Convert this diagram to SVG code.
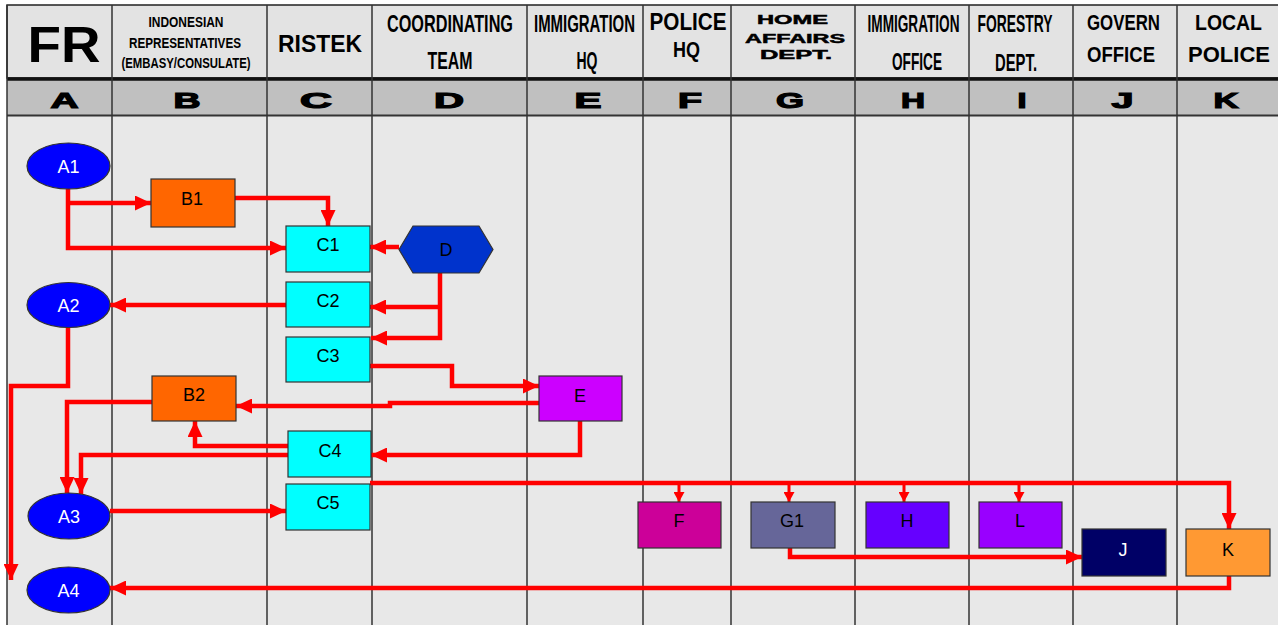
<svg xmlns="http://www.w3.org/2000/svg" width="1278" height="625" viewBox="0 0 1278 625">
<style>
.hd{font-family:"Liberation Sans",Arial,sans-serif;font-weight:bold;fill:#000;text-anchor:middle}
.let{font-family:"Liberation Sans",Arial,sans-serif;font-weight:bold;fill:#000;stroke:#000;stroke-width:1.2;text-anchor:middle;font-size:22px}
.lbl{font-family:"Liberation Sans",Arial,sans-serif;font-size:18px;fill:#000;text-anchor:middle}
.lblw{font-family:"Liberation Sans",Arial,sans-serif;font-size:18px;fill:#fff;text-anchor:middle}
.nd{stroke:#333;stroke-width:1.2}
.vl{stroke:#333;stroke-width:1.5}
.cn{fill:none;stroke:#ff0000;stroke-width:4.5;stroke-linejoin:miter}
.cs{fill:none;stroke:#ff0000;stroke-width:3}
</style>
<defs>
<marker id="arr" markerUnits="userSpaceOnUse" markerWidth="16" markerHeight="15" viewBox="0 0 16 15" refX="16" refY="7.5" orient="auto"><path d="M0,0 L16,7.5 L0,15 z" fill="#ff0000"/></marker>
<marker id="arrs" markerUnits="userSpaceOnUse" markerWidth="10" markerHeight="11" viewBox="0 0 10 11" refX="10" refY="5.5" orient="auto"><path d="M0,0 L10,5.5 L0,11 z" fill="#ff0000"/></marker>
</defs>
<rect x="0" y="0" width="1278" height="625" fill="#ffffff"/>
<g id="lanes">
<rect x="7" y="5" width="1280" height="73" fill="#e3e3e3" stroke="#222" stroke-width="1.5"/>
<rect x="7" y="80" width="1280" height="35" fill="#c0c0c0"/>
<rect x="7" y="116" width="1280" height="515" fill="#e8e8e8"/>
<line x1="7" y1="79" x2="1278" y2="79" stroke="#111" stroke-width="3.5"/>
<line x1="7" y1="115.5" x2="1278" y2="115.5" stroke="#333" stroke-width="2"/>
<g class="vl">
<line x1="7" y1="5" x2="7" y2="625"/>
<line x1="112" y1="5" x2="112" y2="625"/>
<line x1="267" y1="5" x2="267" y2="625"/>
<line x1="372" y1="5" x2="372" y2="625"/>
<line x1="527" y1="5" x2="527" y2="625"/>
<line x1="643" y1="5" x2="643" y2="625"/>
<line x1="731" y1="5" x2="731" y2="625"/>
<line x1="855" y1="5" x2="855" y2="625"/>
<line x1="969" y1="5" x2="969" y2="625"/>
<line x1="1073" y1="5" x2="1073" y2="625"/>
<line x1="1177" y1="5" x2="1177" y2="625"/>
</g>
<text class="hd" x="64" y="62" font-size="50" textLength="73" lengthAdjust="spacingAndGlyphs">FR</text>
<text class="hd" transform="translate(186,27) scale(1,1.3)" font-size="11.5" textLength="75" lengthAdjust="spacingAndGlyphs">INDONESIAN</text>
<text class="hd" transform="translate(185,48) scale(1,1.3)" font-size="11.5" textLength="112" lengthAdjust="spacingAndGlyphs">REPRESENTATIVES</text>
<text class="hd" transform="translate(186,68) scale(1,1.3)" font-size="11.5" textLength="129" lengthAdjust="spacingAndGlyphs">(EMBASY/CONSULATE)</text>
<text class="hd" transform="translate(320,52) scale(1,1.3)" font-size="19" textLength="84" lengthAdjust="spacingAndGlyphs">RISTEK</text>
<text class="hd" transform="translate(450,32) scale(1,1.3)" font-size="19" textLength="126" lengthAdjust="spacingAndGlyphs">COORDINATING</text>
<text class="hd" transform="translate(450,69) scale(1,1.3)" font-size="19" textLength="45" lengthAdjust="spacingAndGlyphs">TEAM</text>
<text class="hd" transform="translate(584.5,32) scale(1,1.45)" font-size="17" textLength="101" lengthAdjust="spacingAndGlyphs">IMMIGRATION</text>
<text class="hd" transform="translate(587,69) scale(1,1.3)" font-size="19" textLength="21" lengthAdjust="spacingAndGlyphs">HQ</text>
<text class="hd" transform="translate(688,30) scale(1,1.45)" font-size="16" textLength="77" lengthAdjust="spacingAndGlyphs">POLICE</text>
<text class="hd" transform="translate(686.5,57) scale(1,1.3)" font-size="17.5" textLength="27" lengthAdjust="spacingAndGlyphs">HQ</text>
<text class="hd" x="792.5" y="24" font-size="13" textLength="71" lengthAdjust="spacingAndGlyphs" stroke="#000" stroke-width="0.5">HOME</text>
<text class="hd" x="795" y="43" font-size="13" textLength="100" lengthAdjust="spacingAndGlyphs" stroke="#000" stroke-width="0.5">AFFAIRS</text>
<text class="hd" x="796" y="59" font-size="13" textLength="72" lengthAdjust="spacingAndGlyphs" stroke="#000" stroke-width="0.5">DEPT.</text>
<text class="hd" transform="translate(913.5,32) scale(1,1.45)" font-size="17" textLength="92" lengthAdjust="spacingAndGlyphs">IMMIGRATION</text>
<text class="hd" transform="translate(917,70) scale(1,1.3)" font-size="19" textLength="50" lengthAdjust="spacingAndGlyphs">OFFICE</text>
<text class="hd" transform="translate(1015,32) scale(1,1.45)" font-size="17" textLength="75" lengthAdjust="spacingAndGlyphs">FORESTRY</text>
<text class="hd" transform="translate(1016,71) scale(1,1.3)" font-size="19" textLength="42" lengthAdjust="spacingAndGlyphs">DEPT.</text>
<text class="hd" transform="translate(1123.5,30) scale(1,1.3)" font-size="17.5" textLength="73" lengthAdjust="spacingAndGlyphs">GOVERN</text>
<text class="hd" transform="translate(1121,62) scale(1,1.3)" font-size="17.5" textLength="68" lengthAdjust="spacingAndGlyphs">OFFICE</text>
<text class="hd" transform="translate(1228.5,30) scale(1,1.3)" font-size="17.5" textLength="67" lengthAdjust="spacingAndGlyphs">LOCAL</text>
<text class="hd" transform="translate(1229,62) scale(1,1.3)" font-size="17.5" textLength="82" lengthAdjust="spacingAndGlyphs">POLICE</text>
<text class="let" x="64.5" y="108" textLength="28" lengthAdjust="spacingAndGlyphs">A</text>
<text class="let" x="187" y="108" textLength="27" lengthAdjust="spacingAndGlyphs">B</text>
<text class="let" x="316" y="108" textLength="32" lengthAdjust="spacingAndGlyphs">C</text>
<text class="let" x="449" y="108" textLength="30" lengthAdjust="spacingAndGlyphs">D</text>
<text class="let" x="588" y="108" textLength="27" lengthAdjust="spacingAndGlyphs">E</text>
<text class="let" x="690" y="108" textLength="24" lengthAdjust="spacingAndGlyphs">F</text>
<text class="let" x="790" y="108" textLength="28" lengthAdjust="spacingAndGlyphs">G</text>
<text class="let" x="913" y="108" textLength="24" lengthAdjust="spacingAndGlyphs">H</text>
<text class="let" x="1022" y="108" textLength="9" lengthAdjust="spacingAndGlyphs">I</text>
<text class="let" x="1122.5" y="108" textLength="22" lengthAdjust="spacingAndGlyphs">J</text>
<text class="let" x="1226" y="108" textLength="25" lengthAdjust="spacingAndGlyphs">K</text>
</g>
<g id="connectors">
<path class="cn" d="M68,189 V248 H286" marker-end="url(#arr)"/>
<path class="cn" d="M68,203 H151" marker-end="url(#arr)"/>
<path class="cn" d="M235,198 H328 V226" marker-end="url(#arr)"/>
<path class="cn" d="M399,247 H370" marker-end="url(#arr)"/>
<path class="cn" d="M440,273 V338 H371" marker-end="url(#arr)"/>
<path class="cn" d="M440,307 H370" marker-end="url(#arr)"/>
<path class="cn" d="M286,305 H110" marker-end="url(#arr)"/>
<path class="cn" d="M68,327 V386 H11 V580" marker-end="url(#arr)"/>
<path class="cn" d="M370,366 H452 V386 H539" marker-end="url(#arr)"/>
<path class="cn" d="M539,403 H390 V406 H236" marker-end="url(#arr)"/>
<path class="cn" d="M152,402 H67 V493" marker-end="url(#arr)"/>
<path class="cn" d="M288,446 H195 V421" marker-end="url(#arr)"/>
<path class="cn" d="M288,455 H81 V494" marker-end="url(#arr)"/>
<path class="cn" d="M580,421 V455 H371" marker-end="url(#arr)"/>
<path class="cn" d="M110,511 H286" marker-end="url(#arr)"/>
<path class="cn" d="M370,483 H1229 V529" marker-end="url(#arr)"/>
<path class="cs" d="M679,483 V502" marker-end="url(#arrs)"/>
<path class="cs" d="M789,483 V502" marker-end="url(#arrs)"/>
<path class="cs" d="M904,483 V502" marker-end="url(#arrs)"/>
<path class="cs" d="M1019,483 V502" marker-end="url(#arrs)"/>
<path class="cn" d="M790,548 V557 H1082" marker-end="url(#arr)"/>
<path class="cn" d="M1229,576 V588 H110" marker-end="url(#arr)"/>
</g>
<g id="A1"><ellipse class="nd" cx="68.5" cy="166" rx="41.5" ry="23" fill="#0000ff"/><text class="lblw" x="68.5" y="173">A1</text></g>
<g id="A2"><ellipse class="nd" cx="68.5" cy="305" rx="41.5" ry="22.5" fill="#0000ff"/><text class="lblw" x="68.5" y="312">A2</text></g>
<g id="A3"><ellipse class="nd" cx="69" cy="516" rx="41" ry="23" fill="#0000ff"/><text class="lblw" x="69" y="523">A3</text></g>
<g id="A4"><ellipse class="nd" cx="68.5" cy="590" rx="41.5" ry="23" fill="#0000ff"/><text class="lblw" x="68.5" y="597">A4</text></g>
<g id="B1"><rect class="nd" x="151" y="179" width="84" height="48" fill="#ff6600"/><text class="lbl" x="192" y="205">B1</text></g>
<g id="B2"><rect class="nd" x="152" y="376" width="84" height="45" fill="#ff6600"/><text class="lbl" x="194" y="401">B2</text></g>
<g id="C1"><rect class="nd" x="286" y="226" width="84" height="46" fill="#00ffff"/><text class="lbl" x="328" y="251">C1</text></g>
<g id="C2"><rect class="nd" x="286" y="282" width="84" height="45" fill="#00ffff"/><text class="lbl" x="328" y="307">C2</text></g>
<g id="C3"><rect class="nd" x="286" y="337" width="84" height="45" fill="#00ffff"/><text class="lbl" x="328" y="362">C3</text></g>
<g id="C4"><rect class="nd" x="288" y="431" width="83" height="46" fill="#00ffff"/><text class="lbl" x="330" y="457">C4</text></g>
<g id="C5"><rect class="nd" x="286" y="484" width="84" height="46" fill="#00ffff"/><text class="lbl" x="328" y="509">C5</text></g>
<g id="D"><polygon class="nd" points="399,249.5 413,226 479,226 493,249.5 479,273 413,273" fill="#0033cc"/><text class="lbl" x="446" y="256">D</text></g>
<g id="E"><rect class="nd" x="539" y="376" width="83" height="45" fill="#cc00ff"/><text class="lbl" x="580" y="402">E</text></g>
<g id="F"><rect class="nd" x="638" y="502" width="83" height="46" fill="#cc0099"/><text class="lbl" x="679" y="527">F</text></g>
<g id="G1"><rect class="nd" x="751" y="502" width="84" height="46" fill="#666699"/><text class="lbl" x="792" y="527">G1</text></g>
<g id="H"><rect class="nd" x="866" y="502" width="83" height="46" fill="#6600ff"/><text class="lbl" x="907" y="527">H</text></g>
<g id="L"><rect class="nd" x="979" y="502" width="83" height="46" fill="#9900ff"/><text class="lbl" x="1020" y="527">L</text></g>
<g id="J"><rect class="nd" x="1082" y="529" width="84" height="47" fill="#000066"/><text class="lblw" x="1123" y="556">J</text></g>
<g id="K"><rect class="nd" x="1186" y="529" width="84" height="47" fill="#ff9933"/><text class="lbl" x="1228" y="556">K</text></g>
</svg>
